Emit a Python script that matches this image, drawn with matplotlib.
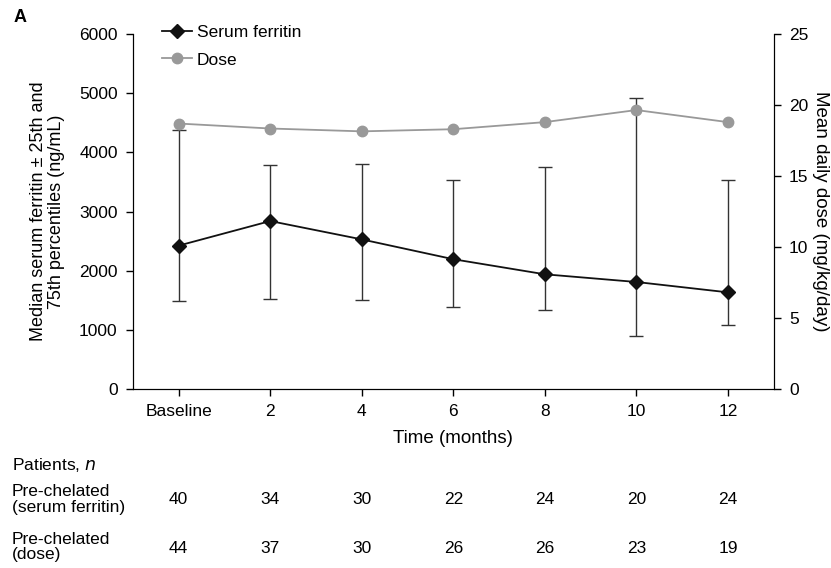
import matplotlib.pyplot as plt

plt.rcParams['font.family'] = ['Liberation Sans', 'DejaVu Sans']

timeLabels = ['Baseline', '2', '4', '6', '8', '10', '12']
ferritinMedian = [2425, 2840, 2530, 2195, 1940, 1810, 1635]
ferritinQ75 = [4380, 3780, 3805, 3540, 3755, 4920, 3530]
ferritinQ25 = [1490, 1515, 1510, 1380, 1330, 890, 1075]
doseMean = [18.7, 18.35, 18.15, 18.3, 18.8, 19.65, 18.8]
nFerritin = [40, 34, 30, 22, 24, 20, 24]
nDose = [44, 37, 30, 26, 26, 23, 19]

xs = list(range(len(timeLabels)))
lowErr = [m - q for m, q in zip(ferritinMedian, ferritinQ25)]
highErr = [q - m for m, q in zip(ferritinMedian, ferritinQ75)]

fs = 12.5

fig = plt.figure(figsize=(8.31, 5.68), dpi=100)
ax = fig.add_axes([0.160, 0.315, 0.771, 0.625])
ax2 = ax.twinx()

ax.errorbar(xs, ferritinMedian, yerr=[lowErr, highErr], fmt='none',
            ecolor='#333333', elinewidth=1, capsize=5, capthick=1, zorder=2)
l1, = ax.plot(xs, ferritinMedian, color='#111111', marker='D', markersize=7,
              linewidth=1.3, label='Serum ferritin', zorder=3)
l2, = ax2.plot(xs, doseMean, color='#999999', marker='o', markersize=7.5,
               linewidth=1.3, label='Dose', zorder=3)

ax.set_xlim(-0.5, 6.5)
ax.set_ylim(0, 6000)
ax.set_yticks(range(0, 6001, 1000))
ax2.set_ylim(0, 25)
ax2.set_yticks(range(0, 26, 5))
ax.set_xticks(xs)
ax.set_xticklabels(timeLabels)

for a in (ax, ax2):
    a.spines['top'].set_visible(False)
    a.tick_params(labelsize=fs, direction='out', length=5, width=1, pad=6)
ax.set_xlabel('Time (months)', fontsize=13.5, labelpad=8)
ax.set_ylabel('Median serum ferritin \u00b1 25th and\n75th percentiles (ng/mL)',
              fontsize=13, linespacing=1.1, labelpad=10)
ax2.set_ylabel('Mean daily dose (mg/kg/day)', fontsize=13.5, rotation=-90, labelpad=15)

ax.legend(handles=[l1, l2], loc='upper left', bbox_to_anchor=(0.035, 1.045),
          frameon=False, fontsize=fs, handlelength=1.7, handletextpad=0.3,
          borderaxespad=0, labelspacing=0.7)

fig.text(0.016, 0.97, 'A', fontsize=13, fontweight='bold', va='center')

# patient count table under the chart
fig.text(0.014, 0.181, 'Patients, $\\it{n}$', fontsize=fs, va='center')
fig.text(0.014, 0.121, 'Pre-chelated\n(serum ferritin)', fontsize=fs, va='center',
         linespacing=1.05)
fig.text(0.014, 0.037, 'Pre-chelated\n(dose)', fontsize=fs, va='center', linespacing=1.05)
for x, a, b in zip(xs, nFerritin, nDose):
    xf = fig.transFigure.inverted().transform(ax.transData.transform((x, 0)))[0]
    fig.text(xf, 0.121, str(a), fontsize=fs, ha='center', va='center')
    fig.text(xf, 0.035, str(b), fontsize=fs, ha='center', va='center')

fig.savefig('out.png', dpi=100)
